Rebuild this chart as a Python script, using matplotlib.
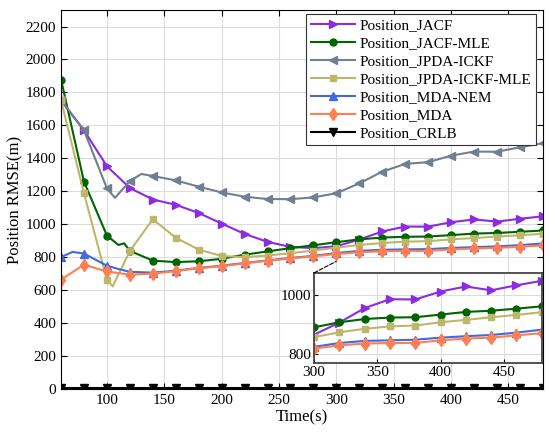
import numpy as np
import matplotlib
matplotlib.use("Agg")
import matplotlib.pyplot as plt
from matplotlib.patches import ConnectionPatch

plt.rcParams['font.family'] = ['Liberation Serif', 'DejaVu Serif']
plt.rcParams['mathtext.fontset'] = 'stix'

# ── DATA ──────────────────────────────────────────────────
t_grid = [60, 80, 100, 120, 140, 160, 180, 200, 220, 240, 260, 280,
          300, 320, 340, 360, 380, 400, 420, 440, 460, 480]

t_jacf = t_grid
jacf = [1750, 1570, 1352, 1220, 1150, 1118, 1068, 1004, 941, 893, 862, 855,
        866, 907, 956, 986, 985, 1012, 1029, 1016, 1033, 1048]

t_jacf_mle = [60, 80, 100, 110, 115, 120, 140, 160, 180, 200, 220, 240, 260, 280,
              300, 320, 340, 360, 380, 400, 420, 440, 460, 480]
jacf_mle = [1878, 1258, 931, 874, 884, 838, 779, 770, 775, 790, 815, 835, 855, 872,
            891, 908, 919, 924, 925, 934, 943, 947, 954, 962]

t_ickf = [60, 80, 100, 107, 120, 130, 140, 160, 180, 200, 220, 240, 260, 280,
          300, 320, 340, 360, 380, 400, 420, 440, 460, 480]
ickf = [1755, 1570, 1217, 1160, 1262, 1305, 1293, 1266, 1228, 1193, 1167, 1153, 1152, 1163,
        1188, 1248, 1319, 1366, 1377, 1416, 1441, 1440, 1467, 1492]

t_ickf_mle = [60, 80, 100, 105, 120, 140, 160, 180, 200, 220, 240, 260, 280,
              300, 320, 340, 360, 380, 400, 420, 440, 460, 480]
ickf_mle = [1752, 1188, 662, 622, 838, 1030, 918, 846, 807, 800, 810, 824, 840,
            858, 874, 886, 894, 897, 908, 916, 925, 933, 942]

t_nem = [60, 70, 80, 100, 110, 120, 140, 160, 180, 200, 220, 240, 260, 280,
         300, 320, 340, 360, 380, 400, 420, 440, 460, 480]
nem = [800, 832, 822, 748, 728, 711, 706, 718, 735, 748, 765, 780, 795, 808,
       825, 838, 845, 847, 849, 856, 861, 865, 873, 883]

t_mda = t_grid
mda = [664, 754, 713, 694, 700, 715, 733, 745, 762, 778, 792, 805,
       819, 830, 836, 838, 838, 847, 853, 856, 864, 871]

t_crlb = t_grid
crlb = [5] * len(t_grid)

series = [
    ("Position_JACF", t_jacf, jacf, '#8B2BE2', '>'),
    ("Position_JACF-MLE", t_jacf_mle, jacf_mle, '#006400', 'o'),
    ("Position_JPDA-ICKF", t_ickf, ickf, '#708090', '<'),
    ("Position_JPDA-ICKF-MLE", t_ickf_mle, ickf_mle, '#BDB76B', 's'),
    ("Position_MDA-NEM", t_nem, nem, '#4169E1', '^'),
    ("Position_MDA", t_mda, mda, '#FF7F50', 'd'),
    ("Position_CRLB", t_crlb, crlb, '#000000', 'v'),
]

msize = {'>': 6, 'o': 5, '<': 6, 's': 4, '^': 6, 'd': 6, 'v': 6}


def draw(ax):
    for name, t, y, c, m in series:
        mask = [tt % 20 == 0 for tt in t]
        ax.plot(t, y, color=c, marker=m, markevery=mask, ms=msize[m],
                lw=1.5, label=name)


# ── MAIN PLOT ─────────────────────────────────────────────
fig = plt.figure(figsize=(5.5, 4.38), dpi=100)
ax = fig.add_axes([0.111, 0.112, 0.876, 0.865])
draw(ax)
ax.set_xlim(60, 480)
ax.set_ylim(0, 2300)
ax.set_xticks(np.arange(100, 451, 50))
ax.set_yticks(np.arange(0, 2201, 200))
ax.grid(True, color='#dcdcdc', lw=0.8)
ax.set_axisbelow(True)
ax.tick_params(direction='in', top=True, right=True, labelsize=11, length=4)
ax.set_xlabel('Time(s)', fontsize=12, labelpad=2)
ax.set_ylabel('Position RMSE(m)', fontsize=12, labelpad=2)

leg = ax.legend(loc='upper right', fontsize=11, handlelength=2.9,
                labelspacing=0.28, borderpad=0.3, handletextpad=0.3,
                borderaxespad=0, fancybox=False, framealpha=1,
                edgecolor='#333333', bbox_to_anchor=(0.986, 0.989))
leg.get_frame().set_linewidth(0.8)

# ── INSET ─────────────────────────────────────────────────
axin = fig.add_axes([0.571, 0.171, 0.414, 0.206])
draw(axin)
axin.set_xlim(300, 480)
axin.set_ylim(770, 1075)
axin.set_xticks(np.arange(300, 451, 50))
axin.set_yticks([800, 1000])
axin.grid(True, color='#dcdcdc', lw=0.8)
axin.tick_params(direction='in', labelsize=11, length=3, pad=2)
for sp in axin.spines.values():
    sp.set_linewidth(1.3)
    sp.set_color('#444444')

con = ConnectionPatch(xyA=(300, 1075), coordsA=axin.transData,
                      xyB=(300, 775), coordsB=ax.transData,
                      ls='--', lw=0.8, color='black')
fig.add_artist(con)

fig.savefig('out.png', dpi=100)
